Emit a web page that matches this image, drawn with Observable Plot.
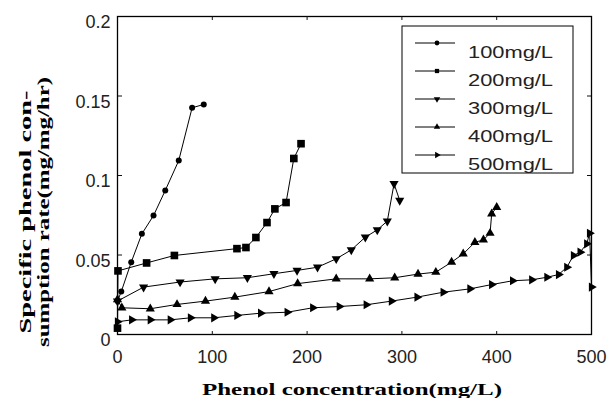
<!DOCTYPE html>
<html><head><meta charset="utf-8">
<script src="https://cdn.jsdelivr.net/npm/d3@7"></script>
<script src="https://cdn.jsdelivr.net/npm/@observablehq/plot@0.6"></script>
<style>body{margin:0;background:#fff}#chart{position:relative;width:610px;height:398px}</style>
</head><body><div id="chart"></div>
<script>
const seriesNames = ["100mg/L", "200mg/L", "300mg/L", "400mg/L", "500mg/L"];
const xTicks = [0, 100, 200, 300, 400, 500];
const yTicks = [0, 0.05, 0.1, 0.15, 0.2];
const xInner = [100, 200, 300, 400];
const yInner = [0.05, 0.1, 0.15];

const x100 = [0, 4, 14.5, 25.7, 38, 50.4, 64.6, 78.7, 91];
const y100 = [0.021, 0.027, 0.0455, 0.0633, 0.0748, 0.0906, 0.1094, 0.1426, 0.1447];

const x200 = [0, 0.5, 30.7, 60, 126, 135.5, 146, 157.7, 166, 177.8, 186, 193.6];
const y200 = [0.004, 0.0400, 0.0450, 0.0497, 0.0540, 0.0547, 0.0610, 0.0704, 0.0790, 0.0830, 0.1107, 0.1200];

const x300 = [0, 27.5, 66, 103, 137, 165, 189.4, 211, 230.7, 246.6, 261.4, 274, 284.6, 291.7, 297.7];
const y300 = [0.021, 0.0298, 0.033, 0.035, 0.0357, 0.0382, 0.0403, 0.0423, 0.0476, 0.0532, 0.0612, 0.0658, 0.0713, 0.0948, 0.0843];

const x400 = [0, 4.6, 34.6, 62.8, 92.8, 123.8, 159.8, 190, 230.7, 266, 292.4, 317, 335.8, 352.4, 364.7, 377, 386, 393, 394.7, 400];
const y400 = [0.022, 0.0168, 0.0162, 0.0189, 0.021, 0.0235, 0.027, 0.032, 0.035, 0.035, 0.0357, 0.038, 0.0392, 0.0455, 0.0507, 0.058, 0.0595, 0.0637, 0.0759, 0.080];

const x500 = [0, 15, 34.6, 55.7, 77, 101.6, 126, 151, 179, 206, 234, 262.4, 289, 316, 343.6, 371.8, 394.7, 416.8, 437, 453, 465.3, 474, 481, 488, 495, 498, 500];
const y500 = [0.008, 0.0092, 0.0092, 0.0092, 0.0105, 0.0105, 0.012, 0.0134, 0.014, 0.0168, 0.0176, 0.0187, 0.021, 0.0235, 0.0266, 0.0287, 0.0314, 0.0338, 0.0344, 0.036, 0.0377, 0.0423, 0.0497, 0.0518, 0.057, 0.0637, 0.0298];

const xs = [x100, x200, x300, x400, x500];
const ys = [y100, y200, y300, y400, y500];
const symbols = ["circle", "square", "triangle", "triangle", "triangle"];
const rotations = [0, 0, 180, 0, 90];
const radii = [3, 4.3, 3.4, 3.4, 3.4];

const rows = [];
xs.forEach((xa, i) => xa.forEach((x, j) => rows.push({s: seriesNames[i], x, y: ys[i][j]})));

const font = "'Liberation Sans', Arial, sans-serif";
const blank = () => "";
const plot = Plot.plot({
  width: 610, height: 398,
  marginLeft: 117, marginRight: 19, marginTop: 16, marginBottom: 64,
  style: {background: "white", fontFamily: font, color: "#111"},
  x: {domain: [0, 500]},
  y: {domain: [0, 0.2]},
  marks: [
    Plot.frame({stroke: "black", strokeWidth: 1.3}),
    Plot.axisX({ticks: xTicks, fontSize: 18, tickSize: 0, tickPadding: 16, label: null, color: "#222"}),
    Plot.axisY({ticks: yTicks, fontSize: 18, tickSize: 0, tickPadding: 7, dy: 6, label: null, color: "#222", tickFormat: d => String(d)}),
    Plot.axisX({ticks: xInner, anchor: "top", tickSize: 4, dy: 318, tickFormat: blank, label: null}),
    Plot.axisX({ticks: xInner, anchor: "bottom", tickSize: 4, dy: -318, tickFormat: blank, label: null}),
    Plot.axisY({ticks: yInner, anchor: "right", tickSize: 4, dx: -474, tickFormat: blank, label: null}),
    Plot.axisY({ticks: yInner, anchor: "left", tickSize: 4, dx: 474, tickFormat: blank, label: null}),
    Plot.line(rows, {x: "x", y: "y", z: "s", stroke: "black", strokeWidth: 1}),
    ...seriesNames.map((name, i) => Plot.dot(rows.filter(r => r.s === name), {
      x: "x", y: "y", symbol: symbols[i], rotate: rotations[i], r: radii[i], fill: "black", stroke: "none"
    }))
  ]
});
document.getElementById("chart").append(plot);

const svg = d3.select(plot);
svg.append("text")
  .attr("x", 352).attr("y", 395)
  .attr("text-anchor", "middle")
  .attr("font-family", "'Liberation Serif', 'Times New Roman', serif")
  .attr("font-weight", "bold").attr("font-size", 17)
  .attr("textLength", 300).attr("lengthAdjust", "spacingAndGlyphs")
  .attr("fill", "#000")
  .text("Phenol concentration(mg/L)");
const ylab = [["Specific phenol con-", 31, 243], ["sumption rate(mg/mg/hr)", 49, 270]];
ylab.forEach(([t, bx, len]) => {
  svg.append("text")
    .attr("transform", `translate(${bx},212) rotate(-90)`)
    .attr("text-anchor", "middle")
    .attr("font-family", "'Liberation Serif', 'Times New Roman', serif")
    .attr("font-weight", "bold").attr("font-size", 17)
    .attr("textLength", len).attr("lengthAdjust", "spacingAndGlyphs")
    .attr("fill", "#000")
    .text(t);
});

const lg = svg.append("g");
lg.append("rect").attr("x", 402).attr("y", 26).attr("width", 171).attr("height", 147)
  .attr("fill", "white").attr("stroke", "black").attr("stroke-width", 1);
const symMap = {circle: d3.symbolCircle, square: d3.symbolSquare, triangle: d3.symbolTriangle};
seriesNames.forEach((name, i) => {
  const ly = 43 + i * 28;
  lg.append("line").attr("x1", 415).attr("x2", 455).attr("y1", ly).attr("y2", ly)
    .attr("stroke", "black").attr("stroke-width", 1);
  lg.append("path")
    .attr("d", d3.symbol(symMap[symbols[i]], Math.PI * 2.4 * 2.4)())
    .attr("transform", `translate(437,${ly}) rotate(${rotations[i]})`)
    .attr("fill", "black");
  lg.append("text").attr("x", 468).attr("y", ly + 15)
    .attr("text-anchor", "start")
    .attr("font-family", font).attr("font-size", 16)
    .attr("textLength", 85).attr("lengthAdjust", "spacingAndGlyphs")
    .attr("fill", "#222")
    .text(name);
});
</script></body></html>
